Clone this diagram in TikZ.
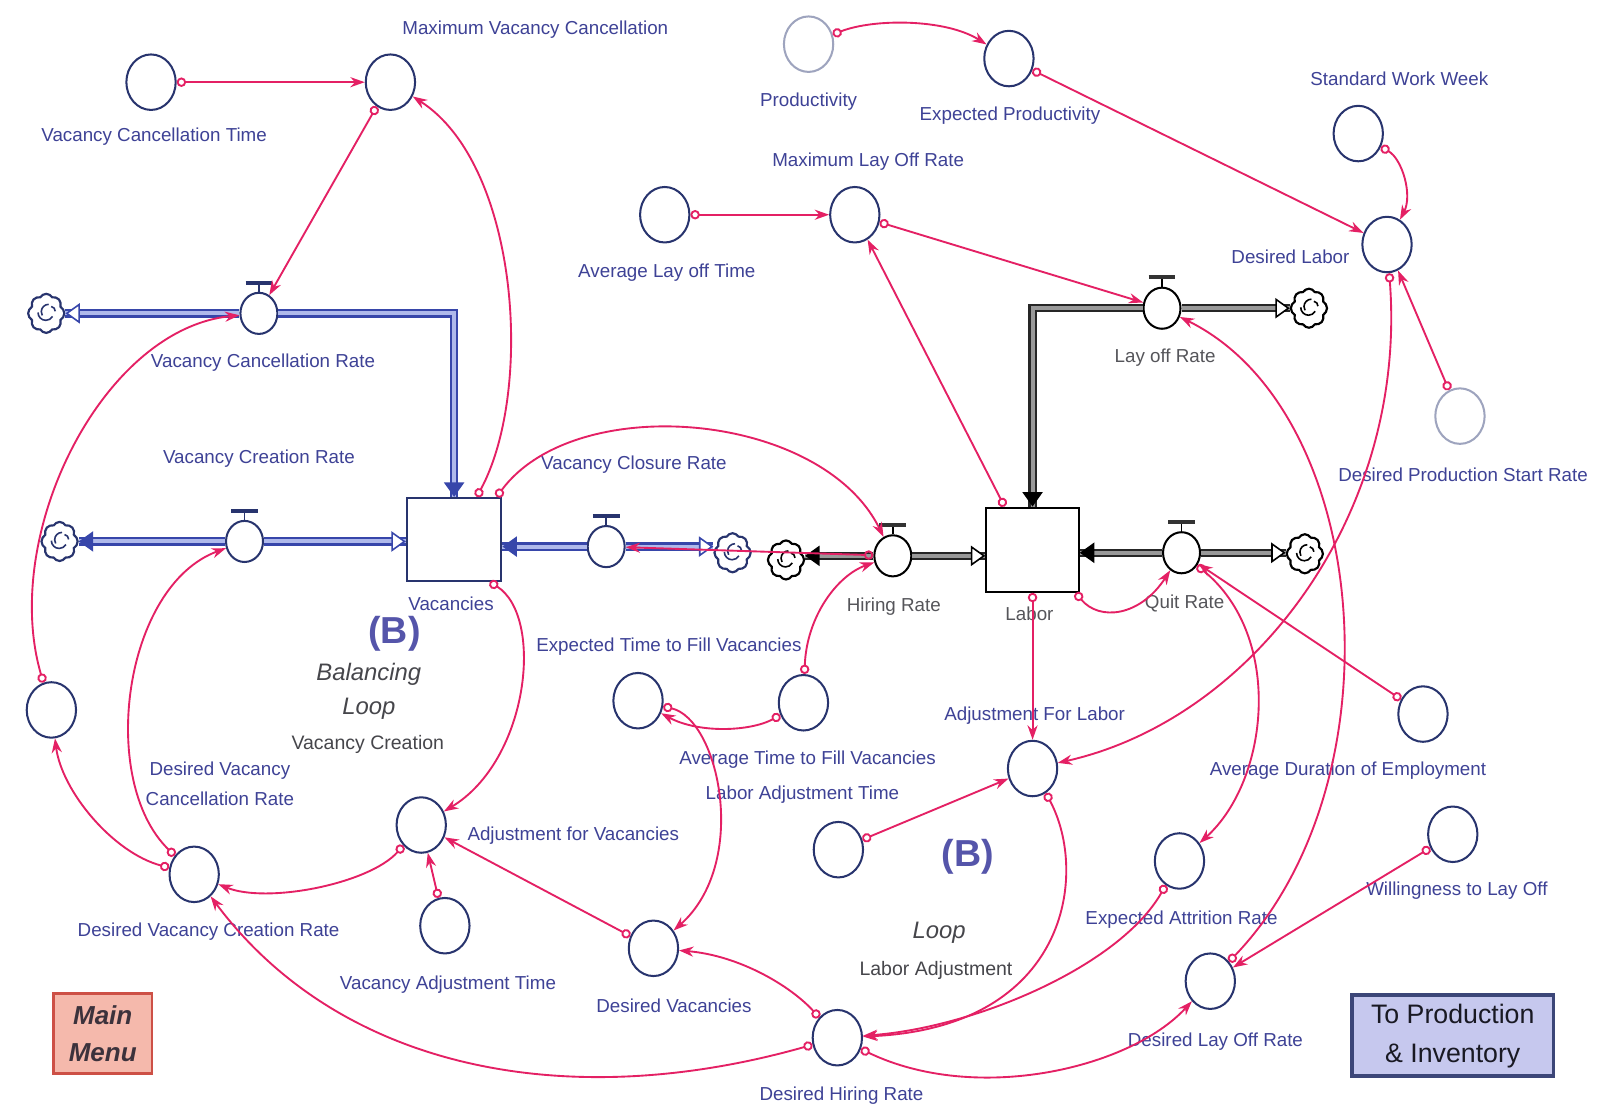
\documentclass[tikz,border=0pt]{standalone}
\usepackage{fontspec}
\setmainfont{Liberation Sans}
\usetikzlibrary{arrows.meta,shapes.geometric,shapes.symbols,calc}
\definecolor{linkc}{RGB}{228,32,100}
\definecolor{labc}{RGB}{62,66,150}
\definecolor{auxc}{RGB}{40,52,110}
\definecolor{pipeb}{RGB}{55,70,170}
\definecolor{pipebin}{RGB}{175,185,235}
\definecolor{greytxt}{RGB}{85,85,90}
\definecolor{loopc}{RGB}{70,70,75}
\definecolor{bc}{RGB}{85,85,170}
\begin{document}
\begin{tikzpicture}[x=0.025cm,y=-0.025cm,
  aux/.style={ellipse, draw=auxc, fill=white, line width=1.4pt, minimum width=1.2cm, minimum height=1.35cm, inner sep=0pt},
  auxlight/.style={aux, draw=auxc!45},
  valveb/.style={ellipse, draw=auxc, fill=white, line width=1.4pt, minimum width=0.9cm, minimum height=1.0cm, inner sep=0pt},
  valvek/.style={valveb, draw=black},
  stockb/.style={rectangle, draw=auxc, fill=white, line width=1.4pt, minimum width=2.3cm, minimum height=2.02cm, inner sep=0pt},
  stockk/.style={stockb, draw=black, minimum width=2.25cm, minimum height=2.05cm},
  cloudb/.style={cloud, cloud puffs=8, cloud puff arc=120, aspect=0.9, draw=auxc, fill=white, line width=1.5pt, minimum width=0.88cm, minimum height=0.95cm, inner sep=0pt,
     path picture={\draw[auxc, line width=1.1pt] ($(path picture bounding box.center)+(-0.2cm,0.02cm)$) arc (180:330:0.19cm) ($(path picture bounding box.center)+(0.06cm,0.22cm)$) arc (90:210:0.18cm) ($(path picture bounding box.center)+(0.22cm,0.05cm)$) arc (0:80:0.12cm);}},
  cloudk/.style={cloudb, draw=black, path picture={\draw[black, line width=1.1pt] ($(path picture bounding box.center)+(-0.2cm,0.02cm)$) arc (180:330:0.19cm) ($(path picture bounding box.center)+(0.06cm,0.22cm)$) arc (90:210:0.18cm) ($(path picture bounding box.center)+(0.22cm,0.05cm)$) arc (0:80:0.12cm);}},
  lbl/.style={text=labc, font=\fontsize{13}{15}\selectfont, inner sep=1pt},
  glbl/.style={lbl, text=greytxt},
  looptxt/.style={text=loopc, font=\fontsize{13.5}{16}\selectfont, inner sep=1pt},
  loopit/.style={text=loopc, font=\itshape\fontsize{16.5}{19}\selectfont, inner sep=1pt},
  bmark/.style={text=bc, font=\bfseries\fontsize{26}{30}\selectfont, inner sep=1pt},
  link/.style={draw=linkc, line width=1.3pt, {Circle[open,length=6.5pt,width=6.5pt]}-{Stealth[length=10pt,width=7pt]}},
  pipeB/.style={draw=pipeb, line width=1.5pt, double=pipebin, double distance=2.8pt},
  pipeK/.style={draw=black!85, line width=1.5pt, double=black!40, double distance=2.8pt},
  tipBf/.style={pipeb, line width=1.1pt, -{Triangle[length=10pt,width=14pt]}},
  tipBo/.style={pipeb, line width=1.1pt, -{Triangle[length=10pt,width=14pt,fill=white]}},
  tipKf/.style={black, line width=1.1pt, -{Triangle[length=10pt,width=14pt]}},
  tipKo/.style={black, line width=1.1pt, -{Triangle[length=10pt,width=14pt,fill=white]}}
]
\useasboundingbox[fill=white] (0,0) rectangle (1568,1076);

% ---------- labels ----------
\node[lbl] (tMVC) at (521,29) {Maximum Vacancy Cancellation};
\node[lbl] (tVCT) at (150,133) {Vacancy Cancellation Time};
\node[lbl] (tVCanR) at (256,353) {Vacancy Cancellation Rate};
\node[lbl] (tVCR) at (252,446) {Vacancy Creation Rate};
\node[lbl] (tVClR) at (617,452) {Vacancy Closure Rate};
\node[lbl] (tVac) at (439,588) {Vacancies};
\node[lbl, align=center, font=\fontsize{13}{21}\selectfont] (tDVCanR) at (214,763) {Desired Vacancy\\Cancellation Rate};
\node[lbl] (tETFV) at (651,629) {Expected Time to Fill Vacancies};
\node[lbl] (tATFV) at (786,739) {Average Time to Fill Vacancies};
\node[lbl] (tLAT) at (781,773) {Labor Adjustment Time};
\node[lbl] (tAfV) at (558,813) {Adjustment for Vacancies};
\node[lbl] (tDVCR) at (203,907) {Desired Vacancy Creation Rate};
\node[lbl] (tVAT) at (436,958) {Vacancy Adjustment Time};
\node[lbl] (tDV) at (656,979) {Desired Vacancies};
\node[lbl] (tDHR) at (819,1066) {Desired Hiring Rate};
\node[lbl] (tProd) at (787,99) {Productivity};
\node[lbl] (tEP) at (983,113) {Expected Productivity};
\node[lbl] (tSWW) at (1362,77) {Standard Work Week};
\node[lbl] (tMLOR) at (845,157) {Maximum Lay Off Rate};
\node[lbl] (tALT) at (649,265) {Average Lay off Time};
\node[lbl] (tDL) at (1256,250) {Desired Labor};
\node[glbl] (tLR) at (1134,348) {Lay off Rate};
\node[lbl] (tDPSR) at (1424,462) {Desired Production Start Rate};
\node[glbl] (tHR) at (870,590) {Hiring Rate};
\node[glbl] (tLab) at (1002,597) {Labor};
\node[glbl] (tQR) at (1153,587) {Quit Rate};
\node[lbl] (tAFL) at (1007,697) {Adjustment For Labor};
\node[lbl] (tADE) at (1312,750) {Average Duration of Employment};
\node[lbl] (tEAR) at (1150,895) {Expected Attrition Rate};
\node[lbl] (tWLO) at (1418,867) {Willingness to Lay Off};
\node[lbl] (tDLOR) at (1183,1014) {Desired Lay Off Rate};

% loop labels
\node[bmark] (b1) at (384,617) {(B)};
\node[loopit] (bal1) at (359,656) {Balancing};
\node[loopit] (loop1) at (359,690) {Loop};
\node[looptxt] (vcl) at (358,725) {Vacancy Creation};
\node[bmark] (b2) at (942,834) {(B)};
\node[loopit] (loop2) at (914,908) {Loop};
\node[looptxt] (lal) at (911,945) {Labor Adjustment};

% buttons
\node[rectangle, draw={rgb,255:red,205;green,80;blue,70}, line width=1.8pt, fill={rgb,255:red,245;green,185;blue,172},
      minimum width=2.4cm, minimum height=1.95cm, align=center, text={rgb,255:red,60;green,50;blue,60},
      font=\bfseries\itshape\fontsize{18}{26}\selectfont] (mainmenu) at (100,1006) {Main\\Menu};
\node[rectangle, draw={rgb,255:red,60;green,70;blue,120}, line width=2.4pt, fill={rgb,255:red,198;green,200;blue,238},
      minimum width=4.9cm, minimum height=1.97cm, align=center, text={rgb,255:red,25;green,25;blue,35},
      font=\fontsize{18.5}{27}\selectfont] (toprod) at (1414,1008) {To Production\\\& Inventory};

% ---------- auxiliaries ----------
\node[aux] (vct) at (147,80) {};
\node[aux] (mvc) at (380,80) {};
\node[auxlight] (prod) at (787,43) {};
\node[aux] (ep) at (982,57) {};
\node[aux] (sww) at (1322,130) {};
\node[aux] (dl) at (1350,238) {};
\node[aux] (mlor) at (832,209) {};
\node[aux] (alt) at (647,209) {};
\node[auxlight] (dpsr) at (1421,405) {};
\node[aux] (ade) at (1385,695) {};
\node[aux] (wlo) at (1414,812) {};
\node[aux] (dlor) at (1178,955) {};
\node[aux] (ear) at (1148,838) {};
\node[aux] (afl) at (1005,748) {};
\node[aux] (lat) at (816,827) {};
\node[aux] (atfv) at (782,684) {};
\node[aux] (etfv) at (621,682) {};
\node[aux] (dv) at (636,923) {};
\node[aux] (dhr) at (815,1010) {};
\node[aux] (afv) at (410,803) {};
\node[aux] (vat) at (433,901) {};
\node[aux] (dvcr) at (189,851) {};
\node[aux] (dvcanr) at (50,691) {};

% ---------- stocks ----------
\node[stockb] (vac) at (442,525) {};
\node[stockk] (lab) at (1005,535) {};

% ---------- valves ----------
\node[valveb] (vVCanR) at (252,305) {};
\node[valveb] (vVCR) at (238,527) {};
\node[valveb] (vVClR) at (590,532) {};
\node[valvek] (vHR) at (869,541) {};
\node[valvek] (vLR) at (1131,300) {};
\node[valvek] (vQR) at (1150,538) {};
\foreach \v in {vVCanR,vVCR,vVClR}{
  \draw[auxc, line width=1.3pt] (\v.north) -- ++(0,-8);
  \draw[auxc, line width=2.8pt] ($(\v.north)+(-13,-9)$) -- ++(26,0);
}
\foreach \v in {vHR,vLR,vQR}{
  \draw[black, line width=1.3pt] (\v.north) -- ++(0,-8);
  \draw[black!80, line width=2.8pt] ($(\v.north)+(-13,-9)$) -- ++(26,0);
}

% ---------- clouds ----------
\node[cloudb] (cVCanR) at (45,305) {};
\node[cloudb] (cVCR) at (58,527) {};
\node[cloudb] (cVClR) at (713,538) {};
\node[cloudk] (cHR) at (765,545) {};
\node[cloudk] (cLR) at (1274,300) {};
\node[cloudk] (cQR) at (1270,539) {};

% ---------- pipes ----------
\coordinate (pA1) at (vVCanR.west -| cVCanR.east);
\coordinate (pB1) at (vVCR.west -| cVCR.east);
\coordinate (pB2) at (vVCR.east -| vac.west);
\coordinate (pC1) at (vVClR.west -| vac.east);
\coordinate (pC2) at (vVClR.east -| cVClR.west);
\coordinate (pD1) at (vHR.west -| cHR.east);
\coordinate (pD2) at (vHR.east -| lab.west);
\coordinate (pE2) at (vLR.east -| cLR.west);
\coordinate (pF1) at (vQR.west -| lab.east);
\coordinate (pF2) at (vQR.east -| cQR.west);

\draw[pipeB] (vac.north) |- (vVCanR.east);
\draw[pipeB] (vVCanR.west) -- (pA1);
\draw[pipeB] (vVCR.west) -- (pB1);
\draw[pipeB] (vVCR.east) -- (pB2);
\draw[pipeB] (vVClR.west) -- (pC1);
\draw[pipeB] (vVClR.east) -- (pC2);
\draw[pipeK] (vHR.west) -- (pD1);
\draw[pipeK] (vHR.east) -- (pD2);
\draw[pipeK] (lab.north) |- (vLR.west);
\draw[pipeK] (vLR.east) -- (pE2);
\draw[pipeK] (vQR.west) -- (pF1);
\draw[pipeK] (vQR.east) -- (pF2);

\draw[tipBf] ([yshift=1pt]vac.north) -- (vac.north);
\draw[tipBo] ([xshift=1pt]pA1) -- (pA1);
\draw[tipBf] ([xshift=1pt]pB1) -- (pB1);
\draw[tipBo] ([xshift=-1pt]pB2) -- (pB2);
\draw[tipBf] ([xshift=1pt]pC1) -- (pC1);
\draw[tipBo] ([xshift=-1pt]pC2) -- (pC2);
\draw[tipKf] ([xshift=1pt]pD1) -- (pD1);
\draw[tipKo] ([xshift=-1pt]pD2) -- (pD2);
\draw[tipKf] ([yshift=1pt]lab.north) -- (lab.north);
\draw[tipKo] ([xshift=-1pt]pE2) -- (pE2);
\draw[tipKf] ([xshift=1pt]pF1) -- (pF1);
\draw[tipKo] ([xshift=-1pt]pF2) -- (pF2);

% ---------- links ----------
\draw[link] (vct) -- (mvc);
\draw[link] (mvc) -- (vVCanR);
\draw[link] (vac.62) .. controls (520,380) and (505,160) .. (mvc);
\draw[link] (dvcanr) .. controls (0,520) and (100,320) .. (vVCanR);
\draw[link] (dvcr) .. controls (95,760) and (120,570) .. (vVCR);
\draw[link] (dvcr) .. controls (110,830) and (60,770) .. (dvcanr);
\draw[link] (afv) .. controls (360,860) and (260,880) .. (dvcr);
\draw[link] (vat) -- (afv);
\draw[link] (vac.-50) .. controls (530,600) and (515,740) .. (afv);
\draw[link] (dv) -- (afv);
\draw[link] (etfv) .. controls (700,700) and (730,840) .. (dv);
\draw[link] (atfv) .. controls (730,712) and (680,714) .. (etfv);
\draw[link] (atfv) .. controls (785,600) and (815,560) .. (vHR);
\draw[link] (dhr) .. controls (770,960) and (720,930) .. (dv);
\draw[link] (dhr) .. controls (550,1085) and (330,1040) .. (dvcr);
\draw[link] (vHR) -- (vVClR);
\draw[link] (vac.45) .. controls (560,380) and (800,400) .. (vHR);
\draw[link] (lab.123) -- (mlor);
\draw[link] (alt) -- (mlor);
\draw[link] (mlor) -- (vLR);
\draw[link] (prod) .. controls (850,18) and (920,18) .. (ep);
\draw[link] (ep) -- (dl);
\draw[link] (sww) .. controls (1365,155) and (1375,190) .. (dl);
\draw[link] (dpsr) -- (dl);
\draw[link] (dl) .. controls (1370,500) and (1220,700) .. (afl);
\draw[link] (lab) -- (afl);
\draw[link] (lab.-45) .. controls (1070,605) and (1110,600) .. (vQR);
\draw[link] (ade) -- (vQR);
\draw[link] (vQR) .. controls (1250,620) and (1235,760) .. (ear);
\draw[link] (ear) .. controls (1090,940) and (950,1000) .. (dhr);
\draw[link] (afl) .. controls (1060,850) and (1040,1000) .. (dhr);
\draw[link] (lat) -- (afl);
\draw[link] (dlor) .. controls (1365,760) and (1335,400) .. (vLR);
\draw[link] (wlo) -- (dlor);
\draw[link] (dhr) .. controls (950,1075) and (1100,1040) .. (dlor);
\end{tikzpicture}
\end{document}
